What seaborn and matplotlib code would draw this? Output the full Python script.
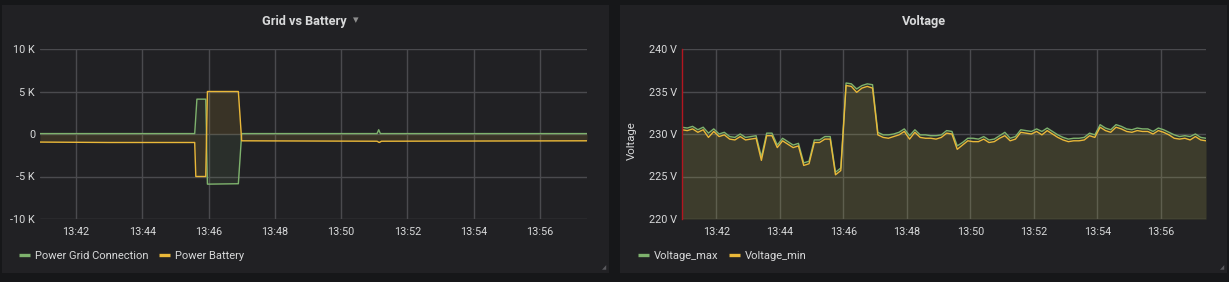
import numpy as np
import pandas as pd
import matplotlib
matplotlib.use("Agg")
import matplotlib.pyplot as plt
import matplotlib.dates as mdates
from matplotlib.patches import Rectangle
from matplotlib.lines import Line2D
import seaborn as sns

# ---------------- data ----------------
day = "2020-01-01 "
x_start = "13:40:55"
x_end = "13:57:25"

grid_times = ["13:40:55", "13:45:35", "13:45:39", "13:45:55", "13:45:58",
              "13:46:54", "13:47:00", "13:51:05", "13:51:08", "13:51:11", "13:57:25"]
grid_values = [50, 50, 4100, 4100, -5900, -5850, 50, 50, 500, 50, 50]

battery_times = ["13:40:55", "13:43:00", "13:45:35", "13:45:37", "13:45:55", "13:45:58",
                 "13:46:54", "13:47:00", "13:51:05", "13:51:09", "13:51:13", "13:57:25"]
battery_values = [-950, -1000, -1000, -5000, -5000, 5000, 5000, -800, -850, -1000, -850, -800]

voltage_start = "13:40:55"
voltage_step_seconds = 10
voltage_max = [230.8, 230.7, 230.9, 230.5, 230.8, 230.1, 230.6, 230.0, 230.2, 229.7,
               229.6, 230.0, 229.6, 229.7, 229.8, 227.3, 230.1, 230.1, 228.7, 229.5,
               229.1, 228.7, 228.9, 226.6, 226.8, 229.3, 229.3, 229.7, 229.7, 225.5,
               226.0, 236.0, 235.9, 235.3, 235.7, 235.9, 235.8, 230.2, 229.9, 229.9,
               230.0, 230.2, 230.6, 229.8, 230.5, 229.9, 229.9, 229.8, 229.8, 229.9,
               230.4, 230.3, 228.6, 229.0, 229.5, 229.5, 229.4, 229.7, 229.3, 229.4,
               229.8, 230.2, 229.5, 229.7, 230.5, 230.4, 230.3, 230.6, 230.3, 230.7,
               230.3, 229.9, 229.6, 229.4, 229.5, 229.5, 229.6, 230.1, 229.9, 231.1,
               230.7, 230.5, 231.1, 230.9, 230.6, 230.5, 230.7, 230.6, 230.6, 230.3,
               230.7, 230.5, 230.2, 229.9, 229.7, 229.8, 229.7, 230.0, 229.6, 229.5]
voltage_min = [230.5, 230.4, 230.6, 230.2, 230.5, 229.6, 230.3, 229.7, 229.9, 229.4,
               229.3, 229.7, 229.3, 229.4, 229.5, 226.9, 229.8, 229.8, 228.4, 229.2,
               228.8, 228.4, 228.6, 226.3, 226.5, 229.0, 229.0, 229.4, 229.4, 225.2,
               225.7, 235.7, 235.6, 234.9, 235.4, 235.6, 235.4, 229.9, 229.6, 229.5,
               229.7, 229.9, 230.3, 229.4, 230.2, 229.6, 229.5, 229.5, 229.4, 229.6,
               230.1, 230.0, 228.2, 228.7, 229.2, 229.1, 229.1, 229.4, 229.0, 229.1,
               229.5, 229.8, 229.2, 229.4, 230.2, 230.1, 230.0, 230.3, 229.9, 230.4,
               230.0, 229.6, 229.3, 229.1, 229.2, 229.2, 229.3, 229.8, 229.6, 230.8,
               230.4, 230.2, 230.8, 230.6, 230.3, 230.2, 230.4, 230.3, 230.3, 230.0,
               230.4, 230.2, 229.9, 229.5, 229.4, 229.5, 229.3, 229.7, 229.3, 229.2]

left_series = ["Power Grid Connection", "Power Battery"]
right_series = ["Voltage_max", "Voltage_min"]
left_yticks = [-10000, -5000, 0, 5000, 10000]
left_ytick_labels = ["-10 K", "-5 K", "0", "5 K", "10 K"]
right_yticks = [220, 225, 230, 235, 240]
right_ytick_labels = ["220 V", "225 V", "230 V", "235 V", "240 V"]

# ---------------- style ----------------
GREEN = "#7EB26D"
YELLOW = "#EAB839"
FIG_BG = "#161719"
PANEL_BG = "#212124"
TEXT = "#d8d9da"
GRIDC = "#4a4a4e"

sns.set_theme(style="dark")
plt.rcParams['font.family'] = ['Roboto', 'DejaVu Sans']

W, H = 1229, 282
fig = plt.figure(figsize=(W / 100, H / 100), dpi=100, facecolor=FIG_BG)

# panels
for (x0, x1) in [(2, 609), (620, 1227)]:
    fig.patches.append(Rectangle((x0 / W, 1 - 273 / H), (x1 - x0) / W, (273 - 5) / H,
                                 transform=fig.transFigure, facecolor=PANEL_BG,
                                 edgecolor="none", zorder=-5))

def to_time(lst):
    return pd.to_datetime([day + t for t in lst])

df_left = pd.concat([
    pd.DataFrame({"time": to_time(grid_times), "value": grid_values, "series": left_series[0]}),
    pd.DataFrame({"time": to_time(battery_times), "value": battery_values, "series": left_series[1]}),
])
vt = pd.date_range(day + voltage_start, periods=len(voltage_max), freq=f"{voltage_step_seconds}s")
df_right = pd.concat([
    pd.DataFrame({"time": vt, "value": voltage_max, "series": right_series[0]}),
    pd.DataFrame({"time": vt, "value": voltage_min, "series": right_series[1]}),
])

ax1 = fig.add_axes([40 / W, 1 - 219 / H, 547 / W, 170 / H])
ax2 = fig.add_axes([682 / W, 1 - 219 / H, 524 / W, 170 / H])

def style_axes(ax):
    ax.set_facecolor(PANEL_BG)
    ax.set_axisbelow(True)
    ax.grid(True, color=GRIDC, linewidth=1)
    for s in ax.spines.values():
        s.set_visible(False)
    ax.tick_params(axis="both", length=0, labelsize=7.8, labelcolor=TEXT)
    ax.tick_params(axis="y", pad=3.6)
    ax.tick_params(axis="x", pad=6)
    ax.xaxis.set_major_locator(mdates.MinuteLocator(byminute=range(0, 60, 2)))
    ax.xaxis.set_major_formatter(mdates.DateFormatter("%H:%M"))
    ax.set_xlim(pd.Timestamp(day + x_start), pd.Timestamp(day + x_end))
    ax.set_xlabel("")

# left panel
sns.lineplot(data=df_left, x="time", y="value", hue="series", palette=[GREEN, YELLOW],
             estimator=None, linewidth=1, ax=ax1, legend=False)
ax1.fill_between(to_time(grid_times), 0, grid_values, color=GREEN, alpha=0.1, linewidth=0)
ax1.fill_between(to_time(battery_times), 0, battery_values, color=YELLOW, alpha=0.12, linewidth=0)
style_axes(ax1)
ax1.set_ylim(-10000, 10000)
ax1.set_yticks(left_yticks)
ax1.set_yticklabels(left_ytick_labels)
ax1.set_ylabel("")

# right panel
ax2.fill_between(vt, 220, voltage_max, color=GREEN, alpha=0.1, linewidth=0)
ax2.fill_between(vt, 220, voltage_min, color=YELLOW, alpha=0.1, linewidth=0)
sns.lineplot(data=df_right, x="time", y="value", hue="series", palette=[GREEN, YELLOW],
             estimator=None, linewidth=1, ax=ax2, legend=False)
style_axes(ax2)
ax2.set_ylim(220, 240)
ax2.set_yticks(right_yticks)
ax2.set_yticklabels(right_ytick_labels)
ax2.spines["left"].set_visible(True)
ax2.spines["left"].set_color("#b3161f")
ax2.spines["left"].set_linewidth(1)
ax2.set_ylabel("Voltage", color=TEXT, fontsize=8.2)
ax2.yaxis.set_label_coords((636.7 - 682) / 524, (219 - 141) / 170)

# titles
fig.text(304.5 / W, 1 - 24.5 / H, "Grid vs Battery", ha="center", va="baseline",
         color=TEXT, fontsize=9.2, fontweight="bold")
fig.text(356 / W, 1 - 20 / H, "\u25BE", ha="center", va="center",
         color="#8e8e8e", fontsize=8, family=["DejaVu Sans"])
fig.text(923.7 / W, 1 - 24.5 / H, "Voltage", ha="center", va="baseline",
         color=TEXT, fontsize=9.2, fontweight="bold")

# panel resize corners
for xc in (606, 1224):
    fig.text(xc / W, 1 - 268 / H, "\u25E2", ha="right", va="center",
             color="#5a5a5e", fontsize=4, family=["DejaVu Sans"])

# legends
def add_legend(labels, x_px):
    handles = [Line2D([0], [0], color=c, lw=2.4, solid_capstyle="butt") for c in (GREEN, YELLOW)]
    fig.legend(handles, labels, loc="center left", bbox_to_anchor=(x_px / W, 1 - 256 / H),
               ncol=2, frameon=False, fontsize=8.0, labelcolor=TEXT, handlelength=1.0,
               handletextpad=0.45, columnspacing=0.9, borderpad=0, borderaxespad=0)

add_legend(left_series, 19)
add_legend(right_series, 638)

fig.savefig("out.png", dpi=100, facecolor=FIG_BG)
